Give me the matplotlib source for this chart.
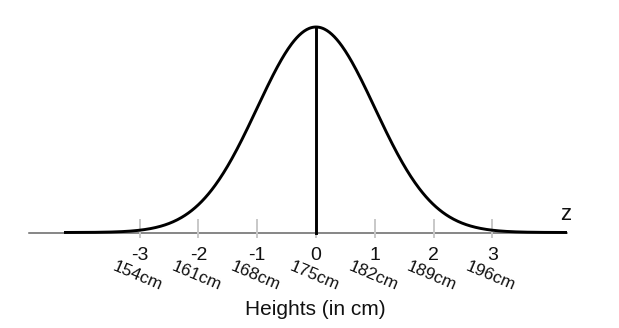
import numpy as np
import matplotlib
matplotlib.use("Agg")
import matplotlib.pyplot as plt

z_ticks = [-3, -2, -1, 0, 1, 2, 3]
height_labels = ["154cm", "161cm", "168cm", "175cm", "182cm", "189cm", "196cm"]

W, H = 619, 328
x0_px, unit_px = 316, 58.8
base_px, peak_px = 232.5, 27
peak_pdf = 1 / np.sqrt(2 * np.pi)
scale = (base_px - peak_px) / peak_pdf

fig = plt.figure(figsize=(W / 100, H / 100), dpi=100)
ax = fig.add_axes([0, 0, 1, 1])
ax.set_xlim(-x0_px / unit_px, (W - x0_px) / unit_px)
ax.set_ylim(-(H - base_px) / scale, base_px / scale)
ax.axis("off")

def px2z(px):
    return (px - x0_px) / unit_px

def py2y(py):
    return (base_px - py) / scale

# thin axis line
ax.plot([px2z(29), px2z(567)], [0, 0], color="#666666", lw=1.1, zorder=1)

# ticks
for t in z_ticks:
    ax.plot([t, t], [py2y(237), py2y(220)], color="#c8c8c8", lw=1.4, zorder=1)

# curve
z = np.linspace(px2z(64), px2z(567), 600)
pdf = np.exp(-z ** 2 / 2) / np.sqrt(2 * np.pi)
ax.plot(z, pdf, color="black", lw=2.1, solid_capstyle="butt", zorder=3)

# vertical line at mean
ax.plot([0, 0], [0, peak_pdf], color="black", lw=2.1, zorder=3)

fam = ["Liberation Sans", "DejaVu Sans"]
for t, lab in zip(z_ticks, height_labels):
    ax.text(t, py2y(260), f"{t}", ha="center", va="baseline", fontsize=14,
            family=fam, color="#111111")
    ax.text(t - 0.03, py2y(276), lab, ha="center", va="center", fontsize=12.5,
            rotation=-23, rotation_mode="anchor", family=fam, color="#111111")

ax.text(px2z(315), py2y(315), "Heights (in cm)", ha="center", va="baseline",
        fontsize=15, family=fam, color="#111111")
ax.text(px2z(566), py2y(220), "z", ha="center", va="baseline", fontsize=16,
        family=fam, color="#111111")

fig.savefig("out.png", dpi=100)
